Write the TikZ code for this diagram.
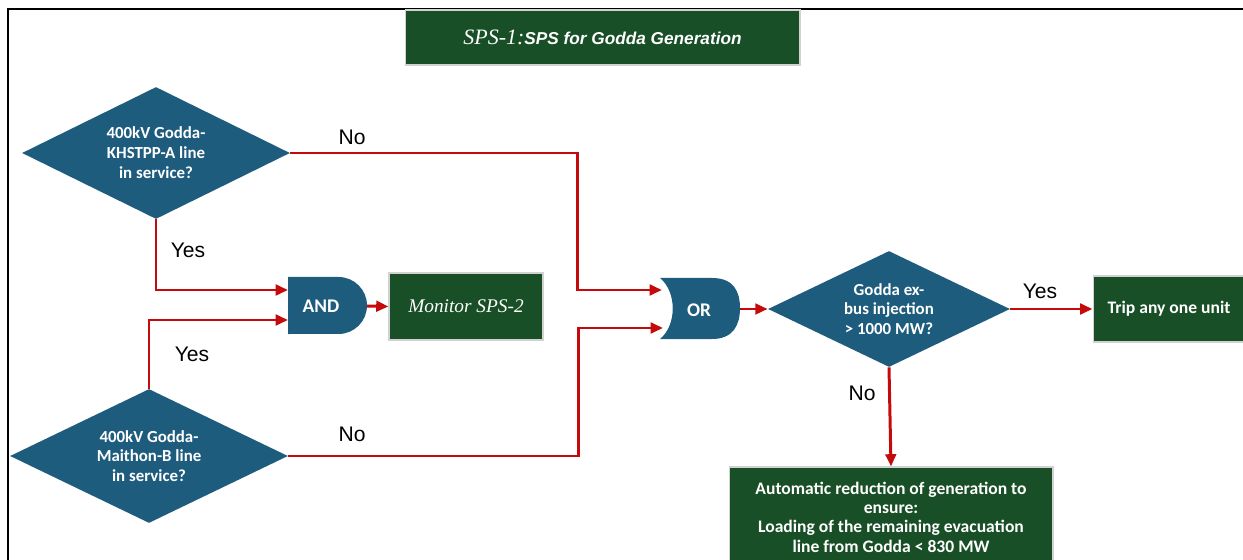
\documentclass[tikz,border=0pt]{standalone}
\usepackage{fontspec}
\usepackage{tikz}
\usetikzlibrary{shapes.geometric,arrows.meta,calc}
\newfontfamily\boxfont{Carlito}
\newfontfamily\labfont{Liberation Sans}
\newfontfamily\serifit{Liberation Serif}
\definecolor{gatblue}{RGB}{30,92,126}
\definecolor{boxgreen}{RGB}{24,79,38}
\definecolor{flowred}{RGB}{196,10,10}

\begin{document}
\begin{tikzpicture}[x=0.02cm, y=-0.02cm,
    flow/.style={draw=flowred, line width=1.7pt, -{Triangle[length=7pt,width=6pt]}},
    decision/.style={shape=diamond, aspect=2.4, fill=gatblue, inner sep=0pt, text=white,
        font=\boxfont\bfseries\fontsize{9.6}{11.3}\selectfont, align=center},
    greenbox/.style={shape=rectangle, fill=boxgreen, draw=gray!35, line width=0.6pt,
        text=white, align=center},
    answer/.style={font=\labfont\fontsize{12}{14}\selectfont, text=black}]
                \useasboundingbox (0,0) rectangle (1243,560);
                \draw[line width=1.3pt] (8,560) -- (8,9) -- (1243,9);

                % title
                \node[greenbox, minimum width=7.9cm, minimum height=1.1cm] (title) at (602.5,37.5)
                    {{\serifit\itshape\fontsize{12.5}{14}\selectfont SPS-1:}{\labfont\bfseries\itshape\fontsize{9.8}{12}\selectfont SPS for Godda Generation}};

                % decisions
                \node[decision, minimum width=5.36cm, minimum height=2.64cm] (lineA) at (156,153)
                    {400kV Godda-\\KHSTPP-A line\\in service?};
                \node[decision, minimum width=5.56cm, minimum height=2.68cm] (lineB) at (149,456)
                    {400kV Godda-\\Maithon-B line\\in service?};
                \node[decision, minimum width=4.84cm, minimum height=2.32cm] (inject) at (889,309)
                    {Godda ex-\\bus injection\\> 1000 MW?};

                % gates
                \fill[gatblue] (288,277) -- (338.5,277) arc[start angle=90, end angle=-90, radius=0.57cm] -- (288,334) -- cycle;
                \node[text=white, font=\boxfont\bfseries\fontsize{11}{13}\selectfont] (andg) at (321,306) {AND};
                \coordinate (andin1) at (288,290);
                \coordinate (andin2) at (288,320);
                \coordinate (andout) at (367,306);

                \fill[gatblue] (660,278) -- (712,278) .. controls (734,278) and (740,292) .. (740,308)
                    .. controls (740,324) and (734,339) .. (712,339) -- (660,339)
                    .. controls (677,325) and (677,292) .. (660,278) -- cycle;
                \node[text=white, font=\boxfont\bfseries\fontsize{11}{13}\selectfont] (org) at (699,310) {OR};
                \coordinate (orin1) at (662,290);
                \coordinate (orin2) at (663,328);
                \coordinate (orout) at (740,309);

                % actions
                \node[greenbox, minimum width=3.08cm, minimum height=1.34cm,
                    font=\serifit\itshape\fontsize{11}{13}\selectfont] (monitor) at (466,306.5) {Monitor SPS-2};
                \node[greenbox, minimum width=3.04cm, minimum height=1.32cm,
                    font=\boxfont\bfseries\fontsize{10}{12}\selectfont] (trip) at (1169,309) {Trip any one unit};
                \node[greenbox, minimum width=6.48cm, minimum height=2cm,
                    font=\boxfont\bfseries\fontsize{10}{11}\selectfont] (reduce) at (891,517)
                    {Automatic reduction of generation to\\ensure:\\Loading of the remaining evacuation\\line from Godda < 830 MW};

                % connectors
                \draw[flow] (lineA.east) -- ++(287,0) |- (orin1);
                \draw[flow] (lineB.east) -- ++(290,0) |- (orin2);
                \draw[flow] (lineA.south) |- (andin1);
                \draw[flow] (lineB.north) |- (andin2);
                \draw[flow] (andout) -- (monitor.west);
                \draw[flow] (orout) -- (inject.west);
                \draw[flow] (inject.east) -- (trip.west);
                \draw[flow] (inject.south) -- (reduce.north);

                \node[answer] (noA) at (352,137) {No};
                \node[answer] (noB) at (352,434) {No};
                \node[answer] (yesA) at (188,250) {Yes};
                \node[answer] (yesB) at (192,354) {Yes};
                \node[answer] (yesI) at (1040,291) {Yes};
                \node[answer] (noI) at (862,393) {No};
            \end{tikzpicture}
\end{document}
